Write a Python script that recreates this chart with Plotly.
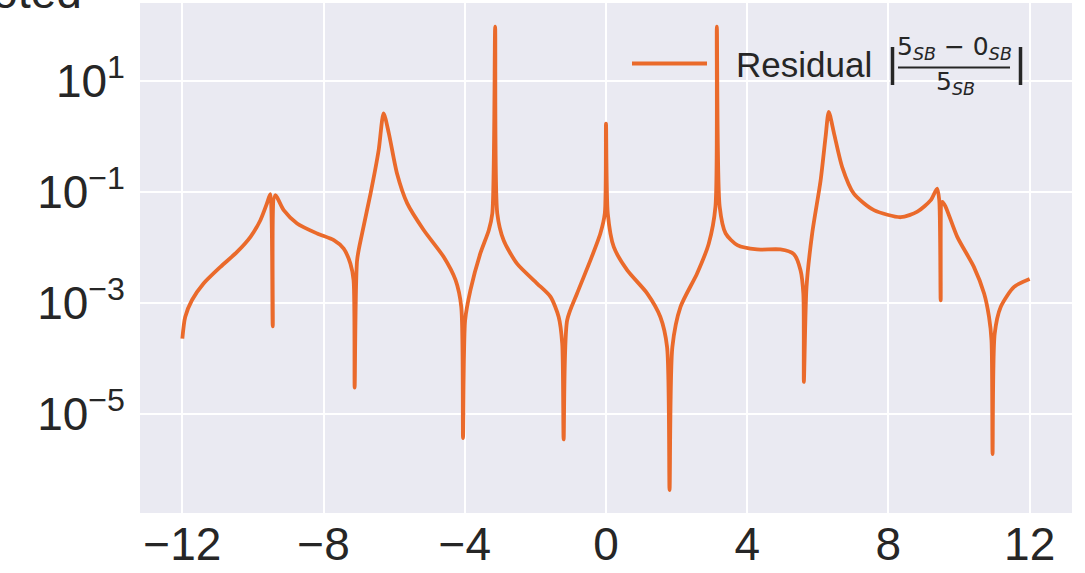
import plotly.graph_objects as go

# Residual curve sampled along x (linear) with values on a log scale
x_vals = [
    -12.0, -11.92, -11.73, -11.40, -10.92, -10.45, -10.07, -9.79, -9.60, -9.51,
    -9.44, -9.37, -9.13, -8.75, -8.18, -7.71, -7.43, -7.24, -7.15, -7.12,
    -7.05, -6.91, -6.67, -6.44, -6.30, -6.15, -5.92, -5.63, -5.16, -4.60,
    -4.26, -4.10, -4.05, -3.99, -3.84, -3.56, -3.32, -3.22, -3.14, -3.08,
    -2.90, -2.52, -1.95, -1.57, -1.34, -1.24, -1.20, -1.10, -0.82, -0.44,
    -0.16, -0.034, 0.0, 0.05, 0.22, 0.60, 1.17, 1.54, 1.73, 1.80,
    1.88, 2.11, 2.58, 2.91, 3.10, 3.14, 3.22, 3.39, 3.72, 4.28,
    4.94, 5.32, 5.51, 5.59, 5.605, 5.68, 5.84, 6.08, 6.22, 6.31,
    6.46, 6.69, 7.02, 7.59, 8.35, 8.82, 9.20, 9.38, 9.44, 9.48,
    9.53, 9.62, 9.95, 10.42, 10.71, 10.85, 10.92, 10.95, 11.01, 11.18,
    11.56, 12.0,
]
residual = [
    2.29e-4, 5.6e-4, 1.12e-3, 2.24e-3, 4.47e-3, 8.3e-3, 1.55e-2, 3.09e-2, 6.3e-2, 9.1e-2,
    3.8e-4, 8.7e-2, 4.7e-2, 2.7e-2, 1.78e-2, 1.35e-2, 9.5e-3, 5.1e-3, 2.57e-3, 3.0e-5,
    5.9e-3, 1.78e-2, 9.3e-2, 0.56, 2.6, 1.12, 0.214, 6.2e-2, 2.04e-2, 6.8e-3,
    2.57e-3, 8.5e-4, 3.7e-6, 4.9e-4, 1.7e-3, 7.8e-3, 2.04e-2, 4.1e-2, 94.0, 4.1e-2,
    1.35e-2, 5.1e-3, 2.24e-3, 1.29e-3, 5.6e-4, 1.86e-4, 3.5e-6, 4.9e-4, 1.48e-3, 5.9e-3,
    1.78e-2, 4.1e-2, 1.7, 4.1e-2, 1.02e-2, 3.9e-3, 1.48e-3, 5.6e-4, 1.62e-4, 4.3e-7,
    1.62e-4, 8.5e-4, 3.4e-3, 1.17e-2, 5.4e-2, 94.0, 5.4e-2, 1.78e-2, 1.1e-2, 9.2e-3,
    9.2e-3, 7.6e-3, 3.9e-3, 1.48e-3, 3.8e-5, 1.95e-3, 1.78e-2, 0.162, 0.98, 2.76,
    1.12, 0.28, 9.3e-2, 4.7e-2, 3.5e-2, 4.4e-2, 7.1e-2, 0.115, 7.1e-2, 1.12e-3,
    6.6e-2, 5.4e-2, 1.55e-2, 4.47e-3, 1.48e-3, 5.6e-4, 2.1e-4, 1.9e-6, 2.8e-4, 8.5e-4,
    1.95e-3, 2.7e-3,
]

x_ticks = [-12, -8, -4, 0, 4, 8, 12]
y_ticks = [1e1, 1e-1, 1e-3, 1e-5]
y_tick_text = ["10<sup>1</sup>", "10<sup>\u22121</sup>", "10<sup>\u22123</sup>", "10<sup>\u22125</sup>"]

LINE = "#EA6A2B"
INK = "#262626"
BG = "#EAEAF2"
SANS = "Liberation Sans, Arial, sans-serif"

# plot area in pixels: left 140, right 1072, top 3, bottom 513
L, R, T, B = 140, 1072, 3, 513
W, H = R - L, B - T


def px(xp):
    return (xp - L) / W


def py(yp):
    return (B - yp) / H


fig = go.Figure()
fig.add_trace(go.Scatter(
    x=x_vals, y=residual, mode="lines", name="Residual",
    line=dict(color=LINE, width=3.8, shape="spline", smoothing=0.7),
    showlegend=False,
))

fig.update_layout(
    width=1085, height=573,
    margin=dict(l=L, r=1085 - R, t=T, b=573 - B),
    paper_bgcolor="white", plot_bgcolor=BG,
    font=dict(family=SANS, color=INK, size=46),
)
fig.update_xaxes(
    range=[-13.2, 13.2], tickvals=x_ticks, showgrid=True, gridcolor="white",
    gridwidth=2, zeroline=False, showline=False, ticks="",
    tickfont=dict(size=46, color=INK, family=SANS),
)
fig.update_yaxes(
    type="log", range=[-6.78, 2.4], tickvals=y_ticks, ticktext=y_tick_text,
    showgrid=True, gridcolor="white", gridwidth=2, zeroline=False,
    showline=False, ticks="", tickfont=dict(size=46, color=INK, family=SANS),
    ticklabelstandoff=14,
)

# hand-drawn legend entry
fig.add_shape(type="line", xref="paper", yref="paper",
              x0=px(632), x1=px(707), y0=py(63.5), y1=py(63.5),
              line=dict(color=LINE, width=3.8))
fig.add_annotation(xref="paper", yref="paper", x=px(734), y=py(64),
                   xanchor="left", yanchor="middle", showarrow=False,
                   text="Residual", font=dict(size=35, color=INK, family=SANS))
math_font = dict(size=25, color=INK, family="DejaVu Sans, sans-serif")
fig.add_annotation(xref="paper", yref="paper", x=px(954), y=py(48),
                   xanchor="center", yanchor="middle", showarrow=False,
                   text="5<sub><i>SB</i></sub> \u2212 0<sub><i>SB</i></sub>", font=math_font)
fig.add_annotation(xref="paper", yref="paper", x=px(955), y=py(83),
                   xanchor="center", yanchor="middle", showarrow=False,
                   text="5<sub><i>SB</i></sub>", font=math_font)
fig.add_shape(type="line", xref="paper", yref="paper",
              x0=px(898), x1=px(1010), y0=py(67.5), y1=py(67.5),
              line=dict(color=INK, width=2))
for bar_x in (892.5, 1020.5):
    fig.add_shape(type="line", xref="paper", yref="paper",
                  x0=px(bar_x), x1=px(bar_x), y0=py(47), y1=py(85),
                  line=dict(color=INK, width=3.5))

# title text running off the top-left corner
fig.add_annotation(xref="paper", yref="paper", x=px(84), y=py(20),
                   xanchor="right", yanchor="bottom", showarrow=False,
                   text="Quoted", font=dict(size=46, color=INK, family=SANS))

fig.write_html("out.html")
